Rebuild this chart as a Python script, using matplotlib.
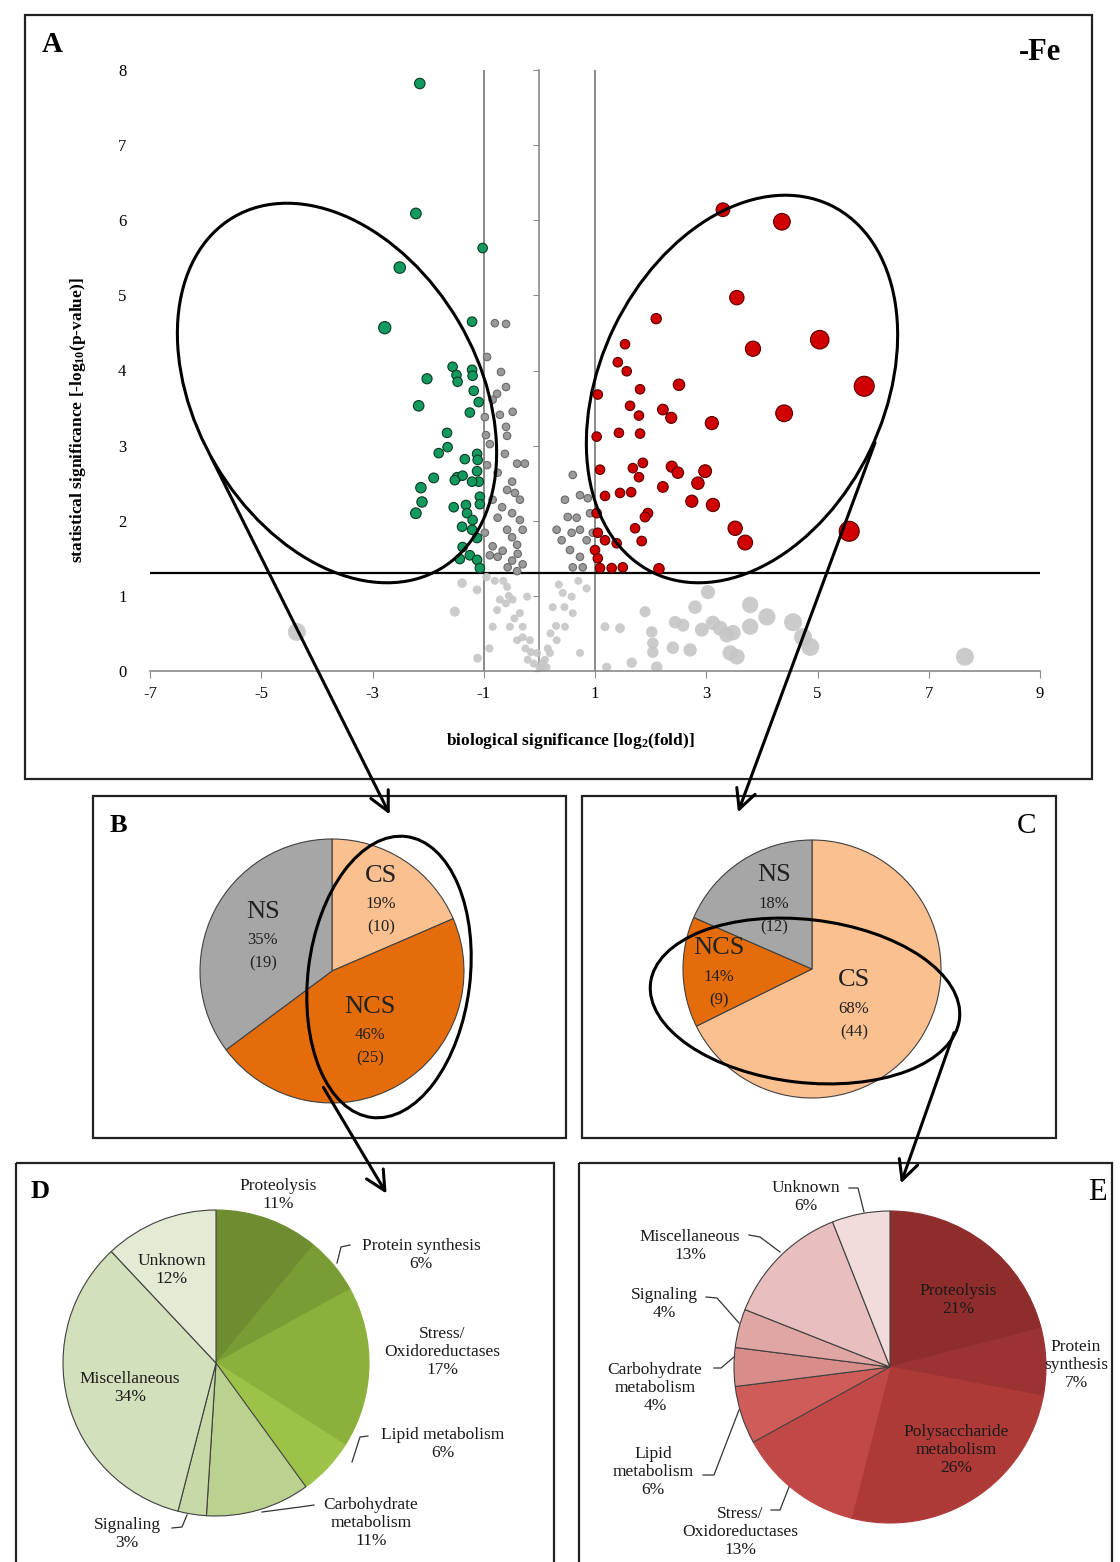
import numpy as np
import matplotlib
matplotlib.use('Agg')
import matplotlib.pyplot as plt
from matplotlib.patches import Ellipse, Rectangle, FancyArrowPatch

plt.rcParams['font.family'] = ['Liberation Serif', 'DejaVu Serif']
plt.rcParams['mathtext.fontset'] = 'custom'
plt.rcParams['mathtext.rm'] = 'Liberation Serif:bold'
plt.rcParams['mathtext.it'] = 'Liberation Serif:bold'
plt.rcParams['mathtext.bf'] = 'Liberation Serif:bold'

# ---------------- data: volcano plot ----------------
green_x = [-2.15, -2.22, -1.02, -2.51, -2.78, -1.21, -1.56, -1.49, -1.47, -1.21,
           -1.20, -2.02, -1.18, -1.09, -2.17, -1.25, -1.66, -1.65, -1.81, -1.34,
           -1.12, -1.11, -1.90, -1.48, -1.38, -1.52, -1.12, -1.09, -1.21, -2.13,
           -2.11, -2.22, -1.54, -1.32, -1.07, -1.07, -1.30, -1.20, -1.39, -1.21,
           -1.12, -1.38, -1.25, -1.43, -1.12, -1.07]
green_y = [7.82, 6.09, 5.63, 5.37, 4.57, 4.65, 4.05, 3.94, 3.85, 4.01,
           3.93, 3.89, 3.73, 3.58, 3.53, 3.44, 3.17, 2.98, 2.90, 2.82,
           2.89, 2.81, 2.57, 2.58, 2.60, 2.54, 2.66, 2.52, 2.52, 2.44,
           2.25, 2.10, 2.18, 2.21, 2.32, 2.22, 2.10, 2.01, 1.92, 1.88,
           1.77, 1.65, 1.54, 1.49, 1.48, 1.37]

red_x = [3.30, 4.36, 3.55, 2.10, 5.04, 3.84, 1.54, 1.41, 1.57, 5.84,
         1.05, 1.81, 2.51, 1.63, 1.79, 2.22, 2.37, 4.40, 3.10, 1.03,
         1.43, 1.81, 1.09, 1.68, 1.86, 2.38, 2.49, 2.98, 1.79, 2.22,
         2.85, 1.18, 1.45, 1.65, 2.74, 3.12, 1.03, 1.95, 1.90, 1.72,
         3.52, 3.70, 5.57, 1.84, 1.05, 1.18, 1.39, 1.00, 1.05, 1.30,
         1.50, 2.15, 1.09]
red_y = [6.14, 5.98, 4.97, 4.69, 4.41, 4.29, 4.35, 4.11, 3.99, 3.79,
         3.68, 3.75, 3.81, 3.53, 3.40, 3.48, 3.37, 3.43, 3.30, 3.12,
         3.17, 3.16, 2.68, 2.70, 2.77, 2.72, 2.64, 2.66, 2.58, 2.45,
         2.50, 2.33, 2.37, 2.38, 2.26, 2.21, 2.10, 2.10, 2.05, 1.90,
         1.90, 1.71, 1.86, 1.73, 1.84, 1.74, 1.70, 1.61, 1.50, 1.37,
         1.38, 1.36, 1.37]

sig_grey_x = [-0.80, -0.60, -0.94, -0.69, -0.60, -0.76, -0.84, -0.48, -0.71, -0.98,
              -0.96, -0.60, -0.58, -0.89, -0.62, -0.40, -0.26, -0.94, -0.75, -0.49,
              -0.58, -0.44, -0.35, -0.84, -0.67, -0.49, -0.35, -0.75, -0.30, -0.58,
              -0.49, -0.40, -0.84, -0.66, -0.39, -0.75, -0.49, -0.30, -0.57, -0.40,
              -0.89, -0.98,
              0.60, 0.46, 0.73, 0.87, 0.51, 0.67, 0.31, 0.58, 0.73, 0.85,
              0.55, 0.73, 0.91, 0.96, 0.60, 0.78, 0.40]
sig_grey_y = [4.63, 4.62, 4.18, 3.98, 3.78, 3.69, 3.61, 3.45, 3.41, 3.38,
              3.14, 3.25, 3.13, 3.02, 2.89, 2.76, 2.76, 2.74, 2.64, 2.52,
              2.41, 2.37, 2.28, 2.28, 2.18, 2.10, 2.01, 2.04, 1.88, 1.88,
              1.78, 1.68, 1.66, 1.60, 1.56, 1.52, 1.47, 1.42, 1.38, 1.33,
              1.54, 1.84,
              2.61, 2.28, 2.34, 2.30, 2.05, 2.04, 1.88, 1.84, 1.88, 1.74,
              1.61, 1.52, 2.10, 1.84, 1.38, 1.38, 1.74]

ns_x = [-1.39, -1.12, -1.52, -1.11, -0.76, -0.58, -0.48, -0.35, -0.30, -0.17,
        -0.04, 0.06, 0.19, 0.31, 0.46, 0.42, 0.58, 0.24, 0.60, 0.73,
        -0.22, -0.71, -0.53, -0.40, -0.84, -0.21, 0.13,
        1.18, 1.45, 1.21, 1.66, 1.90, 2.02, 2.04, 2.04, 2.11, 2.40,
        2.71, 2.44, 2.58, 2.80, 3.03, 2.92, 3.12, 3.25, 3.37, 3.48,
        3.43, 3.55, 3.79, 3.79, 4.09, 4.56, 4.74, 4.87,
        7.65, -4.36, -0.95, -0.65, -0.10, 0.05, 0.35, 0.85, -0.90,
        -0.60, -0.45, -0.30, -0.15, 0.00, 0.15, 0.30, 0.45, -0.80, 0.70,
        -0.25, 0.10, -0.55, 0.20]
ns_y = [1.17, 1.08, 0.79, 0.17, 0.81, 1.12, 0.95, 0.77, 0.59, 0.41,
        0.24, 0.11, 0.24, 0.41, 0.59, 1.04, 0.99, 0.85, 0.77, 0.24,
        0.99, 0.95, 0.59, 0.41, 0.59, 0.15, 0.05,
        0.59, 0.57, 0.05, 0.11, 0.79, 0.52, 0.37, 0.25, 0.05, 0.31,
        0.28, 0.65, 0.61, 0.85, 1.05, 0.55, 0.64, 0.57, 0.48, 0.51,
        0.24, 0.19, 0.88, 0.59, 0.72, 0.65, 0.45, 0.32,
        0.19, 0.52, 1.25, 1.20, 0.10, 0.02, 1.15, 1.10, 0.30,
        0.90, 0.70, 0.45, 0.25, 0.05, 0.30, 0.60, 0.85, 1.20, 1.20,
        0.30, 0.15, 1.00, 0.50]

x_ticks = [-7, -5, -3, -1, 1, 3, 5, 7, 9]
y_ticks = [0, 1, 2, 3, 4, 5, 6, 7, 8]
fold_cut = 1.0
p_cut = 1.3

# ---------------- data: pies ----------------
b_labels = ['CS', 'NCS', 'NS']
b_counts = [10, 25, 19]
c_labels = ['CS', 'NCS', 'NS']
c_counts = [44, 9, 12]

d_labels = ['Proteolysis', 'Protein synthesis', 'Stress/\nOxidoreductases', 'Lipid metabolism',
            'Carbohydrate\nmetabolism', 'Signaling', 'Miscellaneous', 'Unknown']
d_pct = [11, 6, 17, 6, 11, 3, 34, 12]
e_labels = ['Proteolysis', 'Protein\nsynthesis', 'Polysaccharide\nmetabolism', 'Stress/\nOxidoreductases',
            'Lipid\nmetabolism', 'Carbohydrate\nmetabolism', 'Signaling', 'Miscellaneous', 'Unknown']
e_pct = [21, 7, 26, 13, 6, 4, 4, 13, 6]

# ---------------- figure ----------------
W, H = 1120, 1562
fig = plt.figure(figsize=(W / 100, H / 100), dpi=100)
fig.patch.set_facecolor('white')


def px_rect(x0, y0, x1, y1):
    return [x0 / W, 1 - y1 / H, (x1 - x0) / W, (y1 - y0) / H]


def marker_area(xs, base, t, k, cap):
    d = np.minimum(base + k * np.maximum(np.abs(np.asarray(xs)) - t, 0), cap)
    return (d * 0.72) ** 2


# ---------- Panel A: volcano ----------
ax = fig.add_axes(px_rect(150, 70, 1040, 671))
ax.set_xlim(-7, 9)
ax.set_ylim(0, 8)
ax.patch.set_alpha(0)
for s in ['top', 'right', 'left']:
    ax.spines[s].set_visible(False)
ax.spines['bottom'].set_color('#8a8a8a')
ax.spines['bottom'].set_linewidth(1.2)
ax.set_xticks(x_ticks)
ax.set_xticklabels([str(v) for v in x_ticks])
ax.set_yticks(y_ticks)
ax.set_yticklabels([str(v) for v in y_ticks])
ax.tick_params(axis='x', direction='out', length=5, color='#8a8a8a', labelsize=12, pad=6)
ax.tick_params(axis='y', length=0, labelsize=12, pad=17)

sec = ax.secondary_yaxis(7 / 16)
sec.set_yticks(y_ticks)
sec.tick_params(axis='y', direction='out', length=4, color='#8a8a8a',
                labelleft=False, labelright=False)
for s in sec.spines.values():
    s.set_color('#8a8a8a')
    s.set_linewidth(1.2)

ax.axvline(-fold_cut, color='#8a8a8a', lw=1.4, zorder=1)
ax.axvline(fold_cut, color='#8a8a8a', lw=1.4, zorder=1)
ax.axhline(p_cut, color='black', lw=1.6, zorder=1)

ax.scatter(ns_x, ns_y, s=marker_area(ns_x, 8, 0.8, 2.8, 18), c='#c6c6c6',
           edgecolors='none', alpha=0.9, zorder=2)
ax.scatter(sig_grey_x, sig_grey_y, s=marker_area(sig_grey_x, 7.5, 1, 0, 8),
           c='#9a9a9a', edgecolors='#6a6a6a', linewidths=0.8, zorder=3)
ax.scatter(green_x, green_y, s=marker_area(green_x, 9.5, 1.8, 2.8, 20),
           c='#139a5e', edgecolors='#0b3a24', linewidths=0.8, zorder=4)
ax.scatter(red_x, red_y, s=marker_area(red_x, 9.5, 1.8, 2.8, 20),
           c='#d00000', edgecolors='#5a0000', linewidths=0.8, zorder=4)

# ---------- pies ----------
def draw_pie(cx, cy, r, values, colors, edge_flags=None):
    m = 1.04
    a = fig.add_axes(px_rect(cx - r * m, cy - r * m, cx + r * m, cy + r * m))
    wedges, _ = a.pie(values, colors=colors, startangle=90, counterclock=False, radius=1,
                      wedgeprops=dict(edgecolor='#404040', linewidth=0.8))
    if edge_flags is not None:
        for w, f in zip(wedges, edge_flags):
            if not f:
                w.set_edgecolor(w.get_facecolor())
    a.set_xlim(-m, m)
    a.set_ylim(-m, m)
    a.set_aspect('auto')
    a.axis('off')
    return a


orange_map = {'CS': '#fac090', 'NCS': '#e46c0a', 'NS': '#a6a6a6'}
draw_pie(332, 971, 132, b_counts, [orange_map[l] for l in b_labels])
draw_pie(812, 969, 129, c_counts, [orange_map[l] for l in c_labels])

d_colors = ['#6e8c30', '#7a9c34', '#8bb03c', '#9cc247', '#bad18f', '#c7d9a6', '#d2e0bb', '#e3ebd5']
draw_pie(216, 1363, 153, d_pct, d_colors, [False, False, False, False, True, True, True, True])
e_colors = ['#8e2d2b', '#9a3331', '#ae3a38', '#c04846', '#d05c5a', '#d98d8b', '#e0a6a4', '#e8bfbe', '#f2dcdb']
draw_pie(890, 1367, 156, e_pct, e_colors, [False, False, False, False, True, True, True, True, True])

# ---------- overlay (annotations in pixel space) ----------
ov = fig.add_axes([0, 0, 1, 1])
ov.set_xlim(0, W)
ov.set_ylim(H, 0)
ov.axis('off')
ov.patch.set_alpha(0)
ov.set_zorder(10)

for (x0, y0, x1, y1) in [(25, 15, 1092, 779), (93, 796, 566, 1138), (582, 796, 1056, 1138),
                         (16, 1163, 554, 1600), (579, 1163, 1112, 1600)]:
    ov.add_patch(Rectangle((x0, y0), x1 - x0, y1 - y0, fill=False, lw=1.6, ec='#222222'))

for (cx, cy, w, h, ang) in [(337, 393, 408, 282, 59.5), (742, 389, 408, 284, -64.2),
                            (389, 977, 283, 162, 97), (805, 1001, 311, 163, 6.6)]:
    ov.add_patch(Ellipse((cx, cy), w, h, angle=ang, fill=False, lw=2.2, ec='black'))

for (p0, p1) in [((210, 455), (391, 817)), ((876, 440), (737, 815)),
                 ((322, 1085), (388, 1196)), ((955, 1030), (900, 1186))]:
    ov.add_patch(FancyArrowPatch(p0, p1, arrowstyle='->,head_length=0.7,head_width=0.35',
                                 mutation_scale=20, lw=2.2, color='black'))

# panel letters
ov.text(52, 45, 'A', fontsize=21, fontweight='bold', ha='center', va='center')
ov.text(1040, 52, '-Fe', fontsize=22, fontweight='bold', ha='center', va='center')
ov.text(118, 826, 'B', fontsize=19, fontweight='bold', ha='center', va='center')
ov.text(1027, 826, 'C', fontsize=21, ha='center', va='center')
ov.text(40, 1192, 'D', fontsize=19, fontweight='bold', ha='center', va='center')
ov.text(1097, 1192, 'E', fontsize=22, ha='center', va='center')

# axis labels
ov.text(570, 741, 'biological significance [log$_2$(fold)]', fontsize=12.5,
        fontweight='bold', ha='center', va='center')
ov.text(78, 420, 'statistical significance [-log$_{10}$(p-value)]', fontsize=12.5,
        fontweight='bold', ha='center', va='center', rotation=90)

# B / C labels
def pct_list(counts):
    tot = sum(counts)
    return [int(round(100 * c / tot)) for c in counts]


b_pos = {'CS': (381, 876), 'NCS': (370, 1007), 'NS': (263, 912)}
for lab, cnt, pc in zip(b_labels, b_counts, pct_list(b_counts)):
    x, y = b_pos[lab]
    ov.text(x, y, lab, fontsize=19, ha='center', va='center', color='#222222')
    ov.text(x, y + 28, f'{pc}%', fontsize=12, ha='center', va='center', color='#222222')
    ov.text(x, y + 51, f'({cnt})', fontsize=12, ha='center', va='center', color='#222222')

c_pos = {'CS': (854, 980), 'NCS': (719, 948), 'NS': (774, 875)}
for lab, cnt, pc in zip(c_labels, c_counts, pct_list(c_counts)):
    x, y = c_pos[lab]
    ov.text(x, y, lab, fontsize=19, ha='center', va='center', color='#222222')
    ov.text(x, y + 29, f'{pc}%', fontsize=12, ha='center', va='center', color='#222222')
    ov.text(x, y + 52, f'({cnt})', fontsize=12, ha='center', va='center', color='#222222')

# D labels
d_pos = [(278, 1195), (421, 1255), (442, 1352), (443, 1444), (371, 1523),
         (127, 1534), (130, 1388), (172, 1270)]
for lab, pc, (x, y) in zip(d_labels, d_pct, d_pos):
    ov.text(x, y, f'{lab}\n{pc}%', fontsize=12.5, ha='center', va='center',
            linespacing=1.15, color='#1a1a1a')
d_leaders = [[(337, 1263), (341, 1247), (350, 1245)],
             [(352, 1462), (360, 1437), (368, 1436)],
             [(262, 1512), (300, 1507), (314, 1505)],
             [(172, 1528), (182, 1527), (187, 1515)]]
for pts in d_leaders:
    xs, ys = zip(*pts)
    ov.plot(xs, ys, color='#333333', lw=0.9)

# E labels
e_pos = [(958, 1300), (1076, 1365), (956, 1450), (740, 1532), (653, 1472),
         (655, 1388), (664, 1304), (690, 1246), (806, 1197)]
for lab, pc, (x, y) in zip(e_labels, e_pct, e_pos):
    ov.text(x, y, f'{lab}\n{pc}%', fontsize=12.5, ha='center', va='center',
            linespacing=1.15, color='#1a1a1a')
e_leaders = [[(849, 1188), (858, 1188), (864, 1212)],
             [(749, 1235), (760, 1237), (780, 1252)],
             [(706, 1297), (717, 1298), (739, 1323)],
             [(714, 1368), (721, 1368), (734, 1357)],
             [(703, 1475), (714, 1475), (739, 1410)],
             [(771, 1510), (780, 1510), (789, 1487)]]
for pts in e_leaders:
    xs, ys = zip(*pts)
    ov.plot(xs, ys, color='#333333', lw=0.9)

fig.savefig('out.png', dpi=100)
